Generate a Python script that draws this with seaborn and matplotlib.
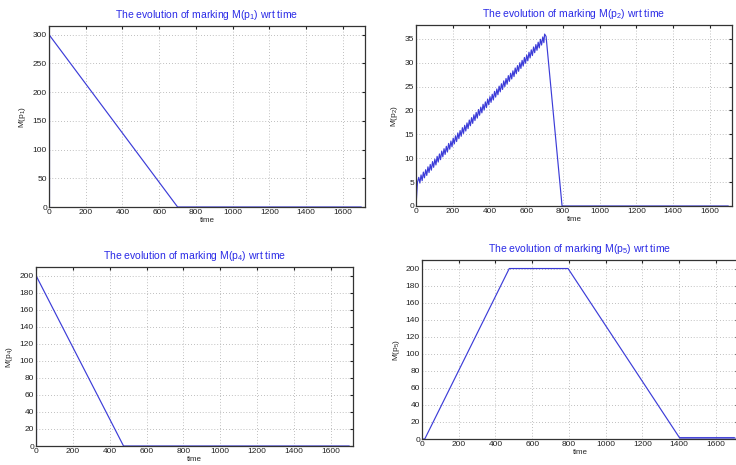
import matplotlib
matplotlib.use("Agg")
import matplotlib.pyplot as plt
import seaborn as sns
import pandas as pd

sns.set_style("white")
plt.rcParams['font.family'] = ['Liberation Sans', 'DejaVu Sans']
plt.rcParams['mathtext.fontset'] = 'custom'
plt.rcParams['mathtext.rm'] = 'Liberation Sans'
plt.rcParams['mathtext.it'] = 'Liberation Sans'

LINE = "#3c3cd8"
TITLE = "#2a2ae6"

# ---- data ----
t_p1 = [0, 0, 700, 1700]
m_p1 = [0, 300, 0, 0]

t_p4 = [0, 0, 475, 1700]
m_p4 = [0, 200, 0, 0]

t_p5 = [0, 15, 475, 795, 1400, 1405, 1700]
m_p5 = [0, 0, 200, 200, 2, 1.5, 1.5]

# M(p2): sawtooth rise, peaks and troughs
peak_t = [15, 27.5, 40, 52.5, 65, 77.5, 90, 102.5, 115, 127.5, 140, 152.5, 165, 177.5,
          190, 202.5, 215, 227.5, 240, 252.5, 265, 277.5, 290, 302.5, 315, 327.5, 340,
          352.5, 365, 377.5, 390, 402.5, 415, 427.5, 440, 452.5, 465, 477.5, 490, 502.5,
          515, 527.5, 540, 552.5, 565, 577.5, 590, 602.5, 615, 627.5, 640, 652.5, 665,
          677.5, 690]
peak_v = [6.0, 6.5, 7.1, 7.6, 8.2, 8.7, 9.3, 9.8, 10.4, 10.9, 11.5, 12.0, 12.5, 13.1,
          13.6, 14.2, 14.7, 15.3, 15.8, 16.4, 16.9, 17.4, 18.0, 18.5, 19.1, 19.6, 20.2,
          20.7, 21.3, 21.8, 22.4, 22.9, 23.4, 24.0, 24.5, 25.1, 25.6, 26.2, 26.7, 27.3,
          27.8, 28.3, 28.9, 29.4, 30.0, 30.5, 31.1, 31.6, 32.2, 32.7, 33.3, 33.8, 34.3,
          34.9, 35.4]
trough_t = [21, 33.5, 46, 58.5, 71, 83.5, 96, 108.5, 121, 133.5, 146, 158.5, 171, 183.5,
            196, 208.5, 221, 233.5, 246, 258.5, 271, 283.5, 296, 308.5, 321, 333.5, 346,
            358.5, 371, 383.5, 396, 408.5, 421, 433.5, 446, 458.5, 471, 483.5, 496, 508.5,
            521, 533.5, 546, 558.5, 571, 583.5, 596, 608.5, 621, 633.5, 646, 658.5, 671,
            683.5, 696]
trough_v = [4.8, 5.3, 5.9, 6.4, 7.0, 7.5, 8.1, 8.6, 9.2, 9.7, 10.3, 10.8, 11.3, 11.9,
            12.4, 13.0, 13.5, 14.1, 14.6, 15.2, 15.7, 16.2, 16.8, 17.3, 17.9, 18.4, 19.0,
            19.5, 20.1, 20.6, 21.2, 21.7, 22.2, 22.8, 23.3, 23.9, 24.4, 25.0, 25.5, 26.1,
            26.6, 27.1, 27.7, 28.2, 28.8, 29.3, 29.9, 30.4, 31.0, 31.5, 32.1, 32.6, 33.1,
            33.7, 34.2]
t_p2_start = [0, 8]
m_p2_start = [0, 5.0]
t_p2_end = [700, 708, 795, 800, 1700]
m_p2_end = [36.0, 35.5, 0, 0, 0]

t_p2 = list(t_p2_start)
m_p2 = list(m_p2_start)
for a, b, c, d in zip(peak_t, peak_v, trough_t, trough_v):
    t_p2 += [a, c]
    m_p2 += [b, d]
t_p2 += t_p2_end
m_p2 += m_p2_end

xticks = [0, 200, 400, 600, 800, 1000, 1200, 1400, 1600]

W, H = 736, 465
fig = plt.figure(figsize=(W / 100, H / 100), dpi=100)


def make_ax(left, right, top, bottom):
    return fig.add_axes([left / W, 1 - bottom / H, (right - left) / W, (bottom - top) / H])


panels = [
    dict(box=(49, 365, 26, 207), t=t_p1, m=m_p1, sub="1", ylim=315,
         yticks=[0, 50, 100, 150, 200, 250, 300]),
    dict(box=(416, 732, 25, 206), t=t_p2, m=m_p2, sub="2", ylim=37.9,
         yticks=[0, 5, 10, 15, 20, 25, 30, 35]),
    dict(box=(36, 353, 267, 446), t=t_p4, m=m_p4, sub="4", ylim=210,
         yticks=list(range(0, 201, 20))),
    dict(box=(422, 738, 260, 439), t=t_p5, m=m_p5, sub="5", ylim=210,
         yticks=list(range(0, 201, 20))),
]

for p in panels:
    ax = make_ax(*p["box"])
    df = pd.DataFrame({"time": p["t"], "M": p["m"]})
    sns.lineplot(data=df, x="time", y="M", ax=ax, sort=False, estimator=None,
                 color=LINE, linewidth=0.85)
    if p["sub"] == "5":
        tail = df[df["time"] >= 1405]
        sns.lineplot(data=tail, x="time", y="M", ax=ax, sort=False, estimator=None,
                     color=LINE, linewidth=2.2, alpha=0.5)
    if p["sub"] in ("1", "4"):
        ax.axvline(0, color=LINE, linewidth=1.6, alpha=0.6, ymax=p["m"][1] / p["ylim"])
    ax.set_xlim(0, 1720)
    ax.set_ylim(0, p["ylim"])
    ax.set_xticks(xticks)
    ax.set_yticks(p["yticks"])
    ax.tick_params(direction="in", length=2.5, labelsize=6, pad=1.5,
                   top=True, right=True, colors="#222222")
    ax.grid(True, linestyle=(0, (1, 2.5)), color="#aaaaaa", linewidth=0.6)
    for s in ax.spines.values():
        s.set_color("#333333")
        s.set_linewidth(0.9)
    ax.set_xlabel("time", fontsize=5.8, labelpad=0.5)
    ax.set_ylabel("M(p$_{%s}$)" % p["sub"], fontsize=6, labelpad=3)
    ax.set_title("The evolution of marking M(p$_{%s}$) wrt time" % p["sub"],
                 fontsize=7.5, color=TITLE, pad=6)

fig.savefig("out.png", dpi=100)
